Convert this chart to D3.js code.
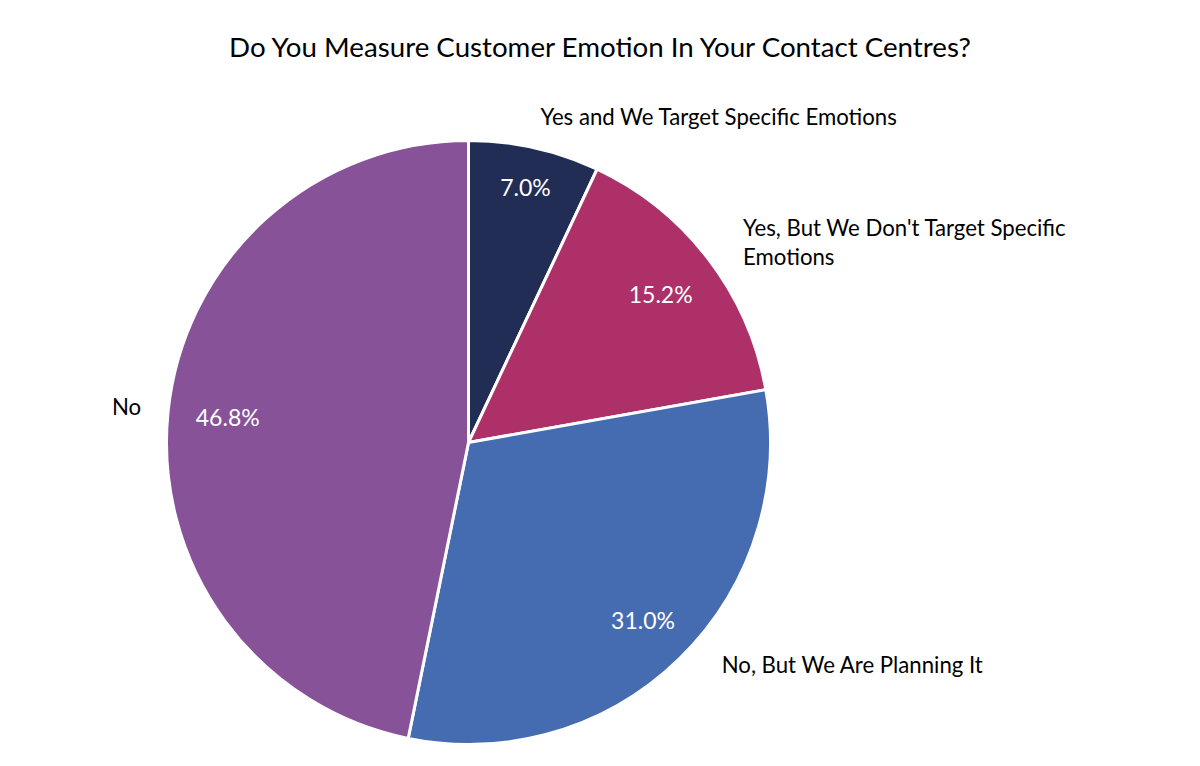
<!DOCTYPE html>
<html>
<head>
<meta charset="utf-8">
<script src="https://cdn.jsdelivr.net/npm/d3@7"></script>
<style>
  body { margin: 0; background: #fff; }
  text { font-family: Lato, "Open Sans", sans-serif; }
</style>
</head>
<body>
<div id="chart"></div>
<script>
// chart data
var categories = [
  "Yes and We Target Specific Emotions",
  "Yes, But We Don't Target Specific Emotions",
  "No, But We Are Planning It",
  "No"
];
var values = [7.0, 15.2, 31.0, 46.8];
var colors = ["#222d55", "#ad3068", "#456cb0", "#875298"];
var title = "Do You Measure Customer Emotion In Your Contact Centres?";

// layout of the labels (pr = radius of percentage label, dr = distance past the edge)
var labelLayout = [
  { pr: 261, dr: 28, anchor: "start", dx: 0, dy: 5, lines: ["Yes and We Target Specific Emotions"] },
  { pr: 242, dr: 30, anchor: "start", dx: 11, dy: -5, lines: ["Yes, But We Don't Target Specific", "Emotions"] },
  { pr: 250, dr: 22, anchor: "start", dx: 27, dy: -1, lines: ["No, But We Are Planning It"] },
  { pr: 242, dr: 30, anchor: "end", dx: 3, dy: 6, lines: ["No"] }
];

var width = 1200, height = 766;
var cx = 468.5, cy = 442.5, radius = 302;

var svg = d3.select("#chart").append("svg")
  .attr("width", width)
  .attr("height", height);

svg.append("text")
  .attr("x", 600)
  .attr("y", 57)
  .attr("text-anchor", "middle")
  .attr("font-size", 27.7)
  .attr("fill", "#000")
  .text(title);

var pie = d3.pie().sort(null).value(function (d) { return d; });
var arcs = pie(values);

var arc = d3.arc().innerRadius(0).outerRadius(radius);

var g = svg.append("g").attr("transform", "translate(" + cx + "," + cy + ")");

g.selectAll("path.slice")
  .data(arcs)
  .enter().append("path")
  .attr("class", "slice")
  .attr("d", arc)
  .attr("fill", function (d, i) { return colors[i]; })
  .attr("stroke", "#fff")
  .attr("stroke-width", 3)
  .attr("stroke-linejoin", "round");

// percentage labels inside the slices
g.selectAll("text.pct")
  .data(arcs)
  .enter().append("text")
  .attr("class", "pct")
  .attr("transform", function (d, i) {
    var pr = labelLayout[i].pr;
    var c = d3.arc().innerRadius(pr).outerRadius(pr).centroid(d);
    return "translate(" + c[0] + "," + (c[1] + 8) + ")";
  })
  .attr("text-anchor", "middle")
  .attr("font-size", 23)
  .attr("fill", "#fff")
  .text(function (d) { return d.value.toFixed(1) + "%"; });

// category labels outside the pie
arcs.forEach(function (d, i) {
  var lay = labelLayout[i];
  var a = (d.startAngle + d.endAngle) / 2;
  var r = radius + lay.dr;
  var x = Math.sin(a) * r + lay.dx;
  var y = -Math.cos(a) * r + lay.dy;
  var t = g.append("text")
    .attr("text-anchor", lay.anchor)
    .attr("font-size", 22.2)
    .attr("fill", "#000");
  lay.lines.forEach(function (line, j) {
    t.append("tspan")
      .attr("x", x)
      .attr("y", y + j * 29)
      .text(line);
  });
});
</script>
</body>
</html>
